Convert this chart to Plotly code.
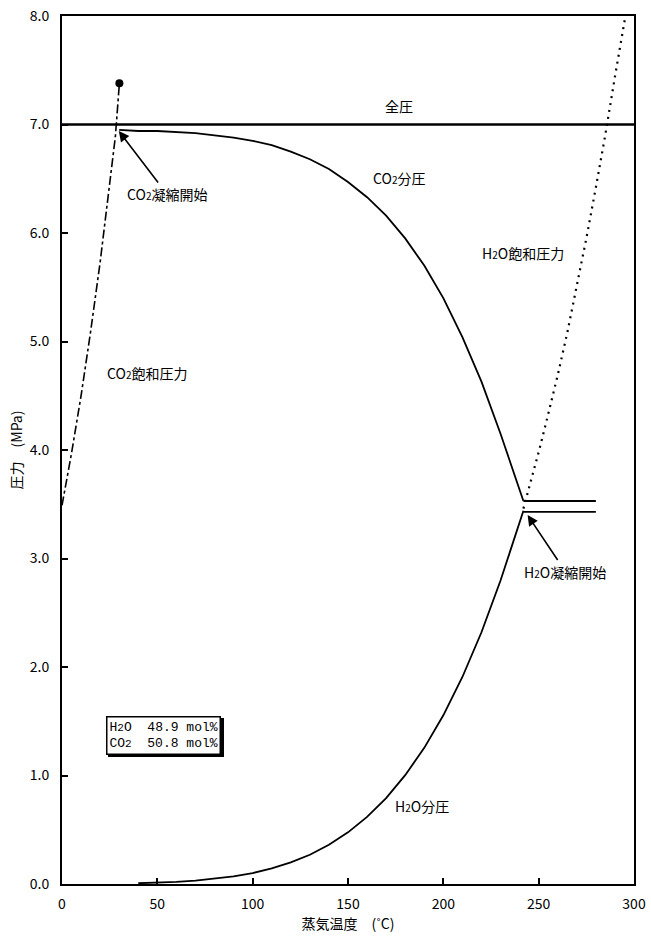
import plotly.graph_objects as go

# ---- data (MPa vs. °C) ----
total_x = [0, 300]
total_y = [7.0, 7.0]

co2_sat_x = [0, 5, 10, 15, 20, 25, 28, 30.1]
co2_sat_y = [3.49, 3.97, 4.50, 5.09, 5.73, 6.43, 6.89, 7.38]

part_x = [40, 50, 60, 70, 80, 90, 100, 110, 120, 130, 140, 150, 160, 170,
          180, 190, 200, 210, 220, 230, 242]
h2o_part = [0.007, 0.012, 0.020, 0.031, 0.047, 0.070, 0.101, 0.143, 0.199,
            0.270, 0.362, 0.476, 0.618, 0.792, 1.003, 1.255, 1.555, 1.908, 2.320,
            2.797, 3.44]
co2_part_x = [30, 40, 50, 60, 70, 80, 90, 100, 110, 120, 130, 140, 150, 160, 170,
              180, 190, 200, 210, 220, 230, 242]
co2_part = [6.95, 6.94, 6.94, 6.93, 6.92, 6.90, 6.88, 6.85, 6.81, 6.75, 6.68, 6.59,
            6.47, 6.33, 6.16, 5.95, 5.70, 5.40, 5.04, 4.63, 4.15, 3.53]

flat_x = [242, 280]
co2_flat = [3.53, 3.53]
h2o_flat = [3.43, 3.43]

h2o_sat_x = [242, 245, 250, 255, 260, 265, 270, 275, 280, 285, 290, 295.5]
h2o_sat_y = [3.46, 3.65, 3.98, 4.33, 4.69, 5.08, 5.50, 5.95, 6.42, 6.91, 7.44, 8.0]

crit_x = [30.1]
crit_y = [7.38]

x_ticks = [0, 50, 100, 150, 200, 250, 300]
y_ticks = [0, 1, 2, 3, 4, 5, 6, 7, 8]
y_ticktext = ["0.0", "1.0", "2.0", "3.0", "4.0", "5.0", "6.0", "7.0", "8.0"]

FONT = "Noto Sans CJK JP"
BLACK = "#000000"

fig = go.Figure()

def line(x, y, width=1.8, dash="solid"):
    fig.add_trace(go.Scatter(x=x, y=y, mode="lines",
                             line=dict(color=BLACK, width=width, dash=dash),
                             showlegend=False, hoverinfo="skip"))

line(total_x, total_y, width=2.6)
line(co2_sat_x, co2_sat_y, width=1.6, dash="dashdot")
line(co2_part_x, co2_part)
line(part_x, h2o_part)
line(flat_x, co2_flat)
line(flat_x, h2o_flat)
line(h2o_sat_x, h2o_sat_y, width=2.2, dash="2px,5px")
fig.add_trace(go.Scatter(x=crit_x, y=crit_y, mode="markers",
                         marker=dict(color=BLACK, size=8),
                         showlegend=False, hoverinfo="skip"))

S = "<span style='font-size:10px'>2</span>"
tf = dict(family=FONT, size=14, color=BLACK)

labels = [
    (177, 7.17, "全圧"),
    (177, 6.51, "CO" + S + "分圧"),
    (241.7, 5.82, "H" + S + "O飽和圧力"),
    (44.7, 4.71, "CO" + S + "飽和圧力"),
    (189, 0.72, "H" + S + "O分圧"),
]
for x, y, t in labels:
    fig.add_annotation(x=x, y=y, text=t, showarrow=False, font=tf)

# arrows
fig.add_annotation(x=29.8, y=6.94, ax=55, ay=6.36, axref="x", ayref="y",
                   text="CO" + S + "凝縮開始", showarrow=True, arrowhead=2,
                   arrowsize=1.3, arrowwidth=1.6, arrowcolor=BLACK, font=tf,
                   standoff=0)
fig.add_annotation(x=244.2, y=3.40, ax=264, ay=2.88, axref="x", ayref="y",
                   text="H" + S + "O凝縮開始", showarrow=True, arrowhead=2,
                   arrowsize=1.3, arrowwidth=1.6, arrowcolor=BLACK, font=tf,
                   standoff=0)

# composition box with shadow
S2 = "<span style='font-size:11px'>2</span>"
box_text = "H" + S2 + "O  48.9 mol%<br>CO" + S2 + "  50.8 mol%"
blank = "&nbsp;" * 14
shadow_text = blank + "<br>" + blank
mono = dict(family="Liberation Mono", size=13, color=BLACK)
fig.add_annotation(x=53.3, y=1.37, text=shadow_text, showarrow=False, font=mono,
                   bgcolor=BLACK, bordercolor=BLACK, borderwidth=1.5, borderpad=2,
                   xshift=2.5, yshift=-2.5)
fig.add_annotation(x=53.3, y=1.37, text=box_text, showarrow=False, font=mono,
                   bgcolor="white", bordercolor=BLACK, borderwidth=1.5, borderpad=2,
                   align="left")

axis_common = dict(showgrid=False, zeroline=False, showline=True, linecolor=BLACK,
                   linewidth=2, mirror=True, ticks="inside", ticklen=6,
                   tickwidth=1.5, tickcolor=BLACK,
                   tickfont=dict(family=FONT, size=14, color=BLACK))

fig.update_xaxes(range=[0, 300], tickvals=x_ticks, **axis_common,
                 ticklabelstandoff=6,
                 title=dict(text="蒸気温度　(˚C)", font=dict(family=FONT, size=14, color=BLACK),
                            standoff=4))
fig.update_yaxes(range=[0, 8], tickvals=y_ticks, ticktext=y_ticktext, **axis_common,
                 ticklabelstandoff=8,
                 title=dict(text="圧力　(MPa)", font=dict(family=FONT, size=14, color=BLACK),
                            standoff=4))

fig.update_layout(width=651, height=936,
                  margin=dict(l=62, r=17, t=16, b=52, autoexpand=False),
                  paper_bgcolor="white", plot_bgcolor="white",
                  showlegend=False)

fig.write_html("out.html")
